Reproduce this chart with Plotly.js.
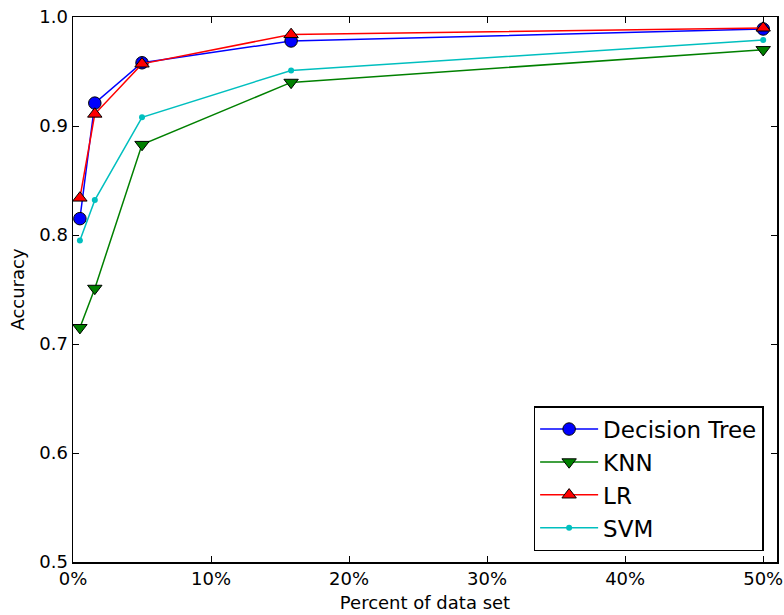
<!DOCTYPE html>
<html>
<head>
<meta charset="utf-8">
<script src="https://cdn.plot.ly/plotly-3.0.1.min.js"></script>
<style>html,body{margin:0;padding:0;background:#fff;}#chart{width:784px;height:615px;}</style>
</head>
<body>
<div id="chart"></div>
<script>
// Fraction of data set used for training
const percents = [0.005, 0.0158, 0.05, 0.158, 0.5];
const decisionTree = [0.815, 0.921, 0.958, 0.978, 0.989];
const knn = [0.715, 0.751, 0.883, 0.940, 0.970];
const lr = [0.834, 0.911, 0.957, 0.984, 0.990];
const svm = [0.795, 0.832, 0.908, 0.951, 0.979];
const seriesNames = ["Decision Tree", "KNN", "LR", "SVM"];
const xTickVals = [0, 0.1, 0.2, 0.3, 0.4, 0.5];
const xTickText = ["0%", "10%", "20%", "30%", "40%", "50%"];
const yTickVals = [0.5, 0.6, 0.7, 0.8, 0.9, 1.0];
const yTickText = ["0.5", "0.6", "0.7", "0.8", "0.9", "1.0"];

const font = "DejaVu Sans, Verdana, sans-serif";

const traces = [
  {x: percents, y: decisionTree, name: seriesNames[0], mode: "lines+markers", legendgroup: "a",
   line: {color: "#0000ff", width: 1.5},
   marker: {symbol: "circle", size: 12.5, color: "#0000ff", line: {color: "#000", width: 1}}},
  {x: percents, y: knn, name: seriesNames[1], mode: "lines+markers", legendgroup: "b",
   line: {color: "#008000", width: 1.5},
   marker: {symbol: "triangle-down", size: 12.5, color: "#008000", line: {color: "#000", width: 1}}},
  {x: percents, y: lr, name: seriesNames[2], mode: "lines+markers", legendgroup: "c",
   line: {color: "#ff0000", width: 1.5},
   marker: {symbol: "triangle-up", size: 12.5, color: "#ff0000", line: {color: "#000", width: 1}}},
  {x: percents, y: svm, name: seriesNames[3], mode: "lines+markers", legendgroup: "d",
   line: {color: "#00bfbf", width: 1.5},
   marker: {symbol: "circle", size: 6, color: "#00bfbf", line: {width: 0}}}
];

const layout = {
  width: 784, height: 615,
  margin: {l: 73, r: 7, t: 17, b: 53},
  paper_bgcolor: "#fff", plot_bgcolor: "#fff",
  font: {family: font, size: 18, color: "#000"},
  showlegend: true,
  legend: {
    x: 0.981, y: 0.02, xanchor: "right", yanchor: "bottom",
    bgcolor: "#fff", bordercolor: "#000", borderwidth: 1.5,
    font: {family: font, size: 23, color: "#000"},
    tracegroupgap: 0, itemwidth: 58
  },
  xaxis: {
    range: [0, 0.51], tickvals: xTickVals, ticktext: xTickText,
    showgrid: false, zeroline: false,
    showline: true, linecolor: "#000", linewidth: 1.5, mirror: "ticks",
    ticks: "inside", ticklen: 6, tickwidth: 1, tickcolor: "#000",
    tickfont: {family: font, size: 18, color: "#000"},
    title: {text: "Percent of data set", font: {family: font, size: 18, color: "#000"}, standoff: 8}
  },
  yaxis: {
    range: [0.5, 1.0], tickvals: yTickVals, ticktext: yTickText,
    showgrid: false, zeroline: false,
    showline: true, linecolor: "#000", linewidth: 1.5, mirror: "ticks",
    ticks: "inside", ticklen: 6, tickwidth: 1, tickcolor: "#000",
    tickfont: {family: font, size: 18, color: "#000"},
    title: {text: "Accuracy", font: {family: font, size: 18, color: "#000"}, standoff: 10}
  }
};

Plotly.newPlot("chart", traces, layout, {displayModeBar: false, staticPlot: true});
</script>
</body>
</html>
